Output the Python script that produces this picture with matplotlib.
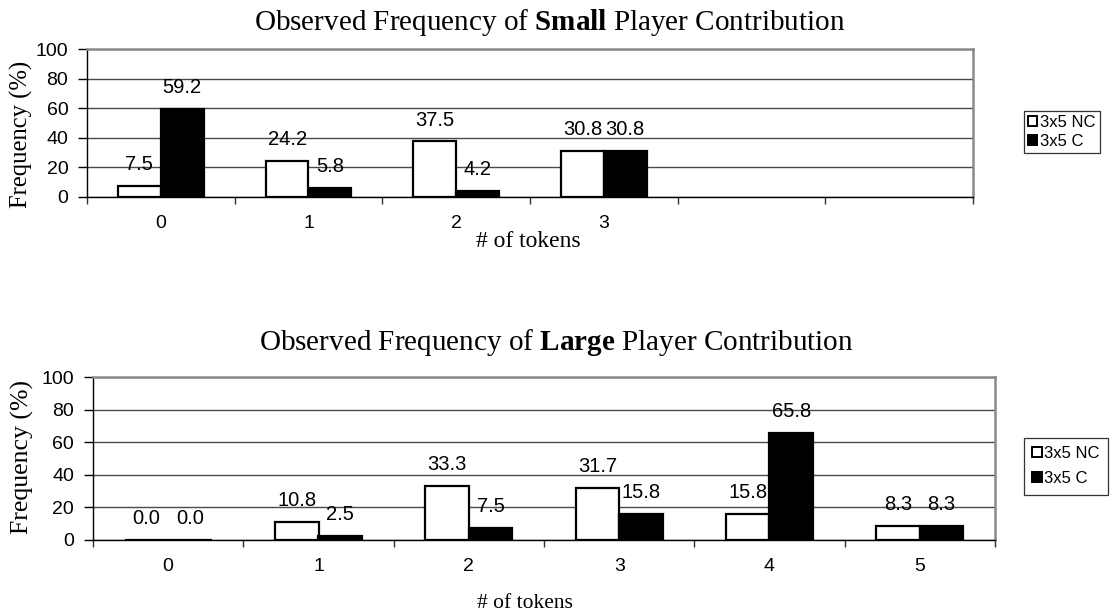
import matplotlib
matplotlib.use("Agg")
import matplotlib.pyplot as plt
import numpy as np

# Observed contribution frequencies (%)
small_tokens = ["0", "1", "2", "3", "", ""]
small_nc = [7.5, 24.2, 37.5, 30.8]
small_c = [59.2, 5.8, 4.2, 30.8]

large_tokens = ["0", "1", "2", "3", "4", "5"]
large_nc = [0.0, 10.8, 33.3, 31.7, 15.8, 8.3]
large_c = [0.0, 2.5, 7.5, 15.8, 65.8, 8.3]

series_names = ["3x5 NC", "3x5 C"]

SERIF = "Liberation Serif"
SANS = "Liberation Sans"
W, H = 1112, 614


def px_axes(fig, left, top, right, bottom):
    return fig.add_axes([left / W, 1 - bottom / H, (right - left) / W, (bottom - top) / H])


def fig_text(x, y, s, **kw):
    return fig.text(x / W, 1 - y / H, s, ha="center", va="center", **kw)


def draw_panel(ax, nc, c, labels):
    x = np.arange(len(nc))
    w = 0.29
    b1 = ax.bar(x - w / 2, nc, w, color="white", edgecolor="black", linewidth=1.6,
                label=series_names[0], zorder=3)
    b2 = ax.bar(x + w / 2, c, w, color="black", edgecolor="black", linewidth=1.6,
                label=series_names[1], zorder=3)
    for bars, vals in ((b1, nc), (b2, c)):
        for rect, v in zip(bars, vals):
            ax.annotate(f"{v:.1f}", (rect.get_x() + rect.get_width() / 2, v),
                        xytext=(0, 11.5), textcoords="offset points",
                        ha="center", va="baseline", fontsize=14.5, family=SANS, zorder=4)

    ax.set_xlim(-0.5, 5.5)
    ax.set_ylim(0, 100)
    ax.set_yticks(np.arange(0, 101, 20))
    ax.yaxis.grid(True, color="#4a4a4a", linewidth=1.0, zorder=0)
    ax.set_axisbelow(True)

    # tick marks between categories, labels under category centers
    ax.set_xticks(np.arange(-0.5, 6.0, 1.0))
    ax.set_xticklabels([])
    ax.set_xticks(np.arange(6), minor=True)
    ax.set_xticklabels(labels, minor=True, fontsize=14, family=SANS)
    ax.tick_params(axis="x", which="major", direction="out", length=5, width=1, color="#333333")
    ax.tick_params(axis="x", which="minor", length=0, pad=13)
    ax.tick_params(axis="y", direction="out", length=6.5, width=1, labelsize=14, pad=7)
    for lab in ax.get_yticklabels():
        lab.set_family(SANS)

    for side in ("top", "right"):
        ax.spines[side].set_color("#8a8a8a")
        ax.spines[side].set_linewidth(1.8)
    for side in ("left", "bottom"):
        ax.spines[side].set_color("black")
        ax.spines[side].set_linewidth(1.0)


plt.rcParams["mathtext.fontset"] = "custom"
plt.rcParams["mathtext.bf"] = "Liberation Serif:bold"
plt.rcParams["mathtext.rm"] = "Liberation Serif"

fig = plt.figure(figsize=(W / 100, H / 100), dpi=100)
ax1 = px_axes(fig, 87, 49, 973, 197)
ax2 = px_axes(fig, 93, 377, 995, 540)

draw_panel(ax1, small_nc, small_c, small_tokens)
draw_panel(ax2, large_nc, large_c, large_tokens)

fig_text(550, 22, "Observed Frequency of $\\mathbf{Small}$ Player Contribution",
         fontsize=21, family=SERIF)
fig_text(556, 342, "Observed Frequency of $\\mathbf{Large}$ Player Contribution",
         fontsize=21, family=SERIF)
fig_text(528, 242, "# of tokens", fontsize=17, family=SERIF)
fig_text(525, 603, "# of tokens", fontsize=15.5, family=SERIF)
fig_text(21, 134, "Frequency (%)", rotation=90, fontsize=17.7, family=SERIF)
fig_text(22, 457, "Frequency (%)", rotation=90, fontsize=18.5, family=SERIF)

legend_kw = dict(loc="upper left", frameon=True, fancybox=False, edgecolor="black",
                 handlelength=0.55, handleheight=0.55, handletextpad=0.15,
                 borderaxespad=0, prop={"family": SANS, "size": 12})
leg1 = ax1.legend(bbox_to_anchor=(1024 / W, 1 - 111 / H), bbox_transform=fig.transFigure,
                  labelspacing=0.2, borderpad=0.25, **legend_kw)
leg2 = ax2.legend(bbox_to_anchor=(1024 / W, 1 - 438 / H), bbox_transform=fig.transFigure,
                  labelspacing=0.6, borderpad=0.5, **legend_kw)
for leg in (leg1, leg2):
    leg.get_frame().set_linewidth(0.9)
    for h in leg.legend_handles:
        h.set_linewidth(1.4)

fig.savefig("out.png", dpi=100)
